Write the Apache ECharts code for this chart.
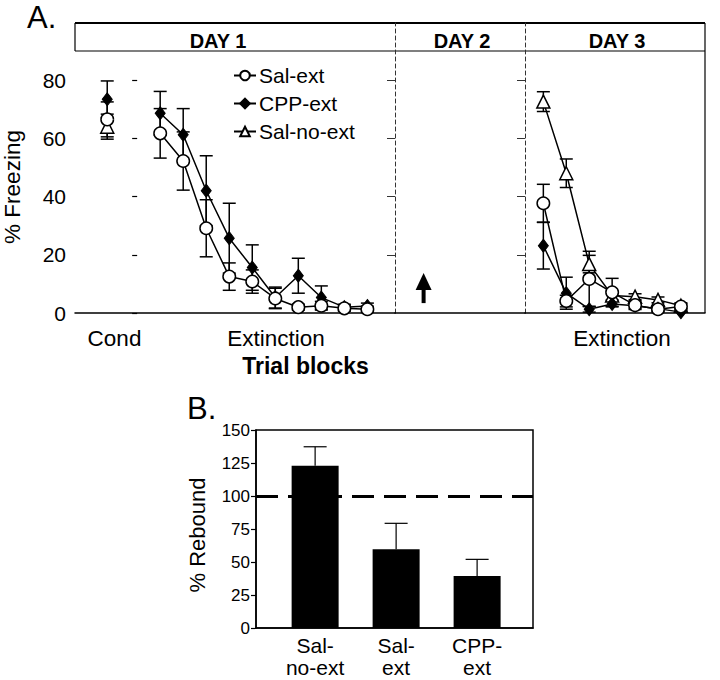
<!DOCTYPE html>
<html><head><meta charset="utf-8">
<script src="https://cdn.jsdelivr.net/npm/echarts@6/dist/echarts.min.js"></script>
<style>html,body{margin:0;padding:0;background:#fff}#c{width:720px;height:680px}</style>
</head><body><div id="c"></div>
<script>
// ---------- Panel A data (% Freezing, mean and SEM) ----------
const condBlockX = -1.3;                       // position of the conditioning block on Day 1
const day1Blocks = [1, 2, 3, 4, 5, 6, 7, 8, 9, 10];
const day3Blocks = [1, 2, 3, 4, 5, 6, 7];
const condSalExt = [66.5, 6.0];
const condCppExt = [73.4, 6.3];
const condSalNoExt = [64.0, 4.3];
const day1SalExt    = [61.7, 52.2, 29.1, 12.5, 10.8, 5.0, 2.0, 2.5, 1.6, 1.3];
const day1SalExtErr = [8.5, 10.0, 9.8, 4.7, 4.0, 3.5, 1.0, 1.5, 1.0, 1.0];
const day1CppExt    = [68.6, 61.2, 42.0, 25.7, 15.6, 5.3, 12.8, 5.3, 2.0, 2.4];
const day1CppExtErr = [7.5, 9.0, 12.0, 12.0, 7.8, 3.6, 6.0, 4.0, 1.0, 1.0];
const day3SalNoExt    = [72.6, 48.0, 16.8, 6.0, 5.6, 4.5, 2.5];
const day3SalNoExtErr = [3.4, 4.9, 3.0, 1.5, 1.0, 1.0, 1.0];
const day3SalExt      = [37.7, 4.1, 11.7, 7.1, 2.7, 1.3, 2.2];
const day3SalExtErr   = [6.5, 2.0, 9.5, 4.8, 1.5, 1.0, 1.0];
const day3CppExt      = [23.1, 6.8, 1.3, 3.1, 2.5, 1.5, 0.3];
const day3CppExtErr   = [8.0, 5.5, 1.0, 1.0, 1.0, 0.8, 0.5];
const day2Arrow = [0.22, 3.4, 13.7];           // x, base, tip (Day 2 test marker)
const freezingTicks = [0, 20, 40, 60, 80];
const freezingMax = 99.6;
const headerLevel = 90;
const dayLabels = ['DAY 1', 'DAY 2', 'DAY 3'];
const seriesNames = ['Sal-ext', 'CPP-ext', 'Sal-no-ext'];

// ---------- Panel B data (% Rebound) ----------
const reboundCategories = ['Sal-\nno-ext', 'Sal-\next', 'CPP-\next'];
const reboundValues = [123, 59.6, 39.4];
const reboundErr = [14.3, 19.7, 12.6];
const reboundReference = 100;
const reboundTicks = [0, 25, 50, 75, 100, 125, 150];

// ---------- layout ----------
const FONT = "'Liberation Sans', Arial, Helvetica, sans-serif";
const A = {top: 23, bottom: 313, x0: 75, x1: 395, x2: 525, x3: 705};
const B = {left: 256, right: 533, top: 430, bottom: 628};

const markerStyles = {
  'Sal-ext':    {symbol: 'circle', symbolSize: 12.5, itemStyle: {color: '#fff', borderColor: '#000', borderWidth: 1.5}, z: 5},
  'CPP-ext':    {symbol: 'diamond', symbolSize: [10, 13], itemStyle: {color: '#000', borderColor: '#000', borderWidth: 1}, z: 4},
  'Sal-no-ext': {symbol: 'triangle', symbolSize: 13, itemStyle: {color: '#fff', borderColor: '#000', borderWidth: 1.5}, z: 3}
};

function pairs(xs, ys) { return xs.map((x, i) => [x, ys[i]]); }
function triples(xs, ys, es) { return xs.map((x, i) => [x, ys[i], es[i]]); }

function lineSeries(name, gridIdx, data) {
  const s = markerStyles[name];
  return {
    type: 'line', name, xAxisIndex: gridIdx, yAxisIndex: gridIdx, data,
    symbol: s.symbol, symbolSize: s.symbolSize, showAllSymbol: true,
    itemStyle: s.itemStyle, lineStyle: {color: '#000', width: 1.5},
    z: s.z, animation: false, emphasis: {disabled: true}, silent: true
  };
}

function errRender(params, api) {
  const x = api.value(0), y = api.value(1), e = api.value(2);
  const lo = Math.max(0, y - e);
  const t = api.coord([x, y + e]), b = api.coord([x, lo]);
  const h = 6.5;
  const st = {stroke: '#000', lineWidth: 1.5};
  const ch = [
    {type: 'line', shape: {x1: t[0], y1: t[1], x2: b[0], y2: b[1]}, style: st},
    {type: 'line', shape: {x1: t[0] - h, y1: t[1], x2: t[0] + h, y2: t[1]}, style: st}
  ];
  if (y - e > 0) ch.push({type: 'line', shape: {x1: b[0] - h, y1: b[1], x2: b[0] + h, y2: b[1]}, style: st});
  return {type: 'group', children: ch};
}
function errSeries(gridIdx, data) {
  return {type: 'custom', xAxisIndex: gridIdx, yAxisIndex: gridIdx, data, renderItem: errRender,
          encode: {x: 0, y: 1}, z: 2, silent: true, animation: false};
}

function arrowRender(params, api) {
  const x = api.value(0);
  const base = api.coord([x, api.value(1)]);
  const tip = api.coord([x, api.value(2)]);
  const headLen = 17, headW = 8, shaftW = 2;
  const hb = tip[1] + headLen;
  return {type: 'group', children: [
    {type: 'rect', shape: {x: base[0] - shaftW, y: hb - 1, width: shaftW * 2, height: base[1] - hb + 1}, style: {fill: '#000'}},
    {type: 'polygon', shape: {points: [[tip[0], tip[1]], [tip[0] - headW, hb], [tip[0] + headW, hb]]}, style: {fill: '#000'}}
  ]};
}

function barErrRender(params, api) {
  const x = api.value(0), y = api.value(1), e = api.value(2);
  const t = api.coord([x, y + e]), b = api.coord([x, y]);
  const h = 11.5;
  const st = {stroke: '#000', lineWidth: 1.2};
  return {type: 'group', children: [
    {type: 'line', shape: {x1: t[0], y1: t[1], x2: b[0], y2: b[1]}, style: st},
    {type: 'line', shape: {x1: t[0] - h, y1: t[1], x2: t[0] + h, y2: t[1]}, style: st}
  ]};
}

const gridH = A.bottom - A.top;
const grids = [
  {left: A.x0, top: A.top, width: A.x1 - A.x0, height: gridH, outerBoundsMode: 'none'},
  {left: A.x1, top: A.top, width: A.x2 - A.x1, height: gridH, outerBoundsMode: 'none'},
  {left: A.x2, top: A.top, width: A.x3 - A.x2, height: gridH, outerBoundsMode: 'none'},
  {left: B.left, top: B.top, width: B.right - B.left, height: B.bottom - B.top, outerBoundsMode: 'none',
   show: true, borderColor: '#000', borderWidth: 1.5, backgroundColor: 'transparent'}
];

const baseX = {type: 'value', axisLine: {show: true, onZero: false, lineStyle: {color: '#000', width: 1.5}},
               axisTick: {show: false}, axisLabel: {show: false}, splitLine: {show: false}};
const xAxes = [
  Object.assign({}, baseX, {gridIndex: 0, min: -2.7, max: 11.2}),
  Object.assign({}, baseX, {gridIndex: 1, min: 0, max: 1}),
  Object.assign({}, baseX, {gridIndex: 2, min: 0.2, max: 8.05}),
  {type: 'value', gridIndex: 3, min: 0.27, max: 3.69,
   axisLine: {show: true, lineStyle: {color: '#000', width: 1.5}}, axisTick: {show: false}, splitLine: {show: false},
   axisLabel: {customValues: [1, 2, 3], formatter: v => reboundCategories[Math.round(v) - 1] || '',
               color: '#000', fontFamily: FONT, fontSize: 21, lineHeight: 22, margin: 6}}
];

const yAxes = [
  {type: 'value', gridIndex: 0, min: 0, max: freezingMax, interval: 20,
   axisLine: {show: false}, splitLine: {show: false},
   axisTick: {show: true, length: 5, customValues: freezingTicks, lineStyle: {color: '#000', width: 1.2}},
   axisLabel: {customValues: freezingTicks, color: '#000', fontFamily: FONT, fontSize: 21, margin: 9}},
  {type: 'value', gridIndex: 1, min: 0, max: freezingMax,
   axisLine: {show: true, lineStyle: {color: '#333', width: 1, type: [4, 3]}}, splitLine: {show: false},
   axisTick: {show: true, length: 8, customValues: freezingTicks.slice(1), lineStyle: {color: '#333', width: 1}},
   axisLabel: {show: false}},
  {type: 'value', gridIndex: 2, min: 0, max: freezingMax,
   axisLine: {show: true, lineStyle: {color: '#333', width: 1, type: [4, 3]}}, splitLine: {show: false},
   axisTick: {show: true, length: 8, customValues: freezingTicks.slice(1), lineStyle: {color: '#333', width: 1}},
   axisLabel: {show: false}},
  {type: 'value', gridIndex: 3, min: 0, max: 150, interval: 25,
   axisLine: {show: true, lineStyle: {color: '#000', width: 1.5}}, splitLine: {show: false},
   axisTick: {show: true, length: 5, customValues: reboundTicks, lineStyle: {color: '#000', width: 1.2}},
   axisLabel: {customValues: reboundTicks, color: '#000', fontFamily: FONT, fontSize: 17, margin: 6}}
];

const series = [
  // Day 1
  lineSeries('Sal-ext', 0, pairs(day1Blocks, day1SalExt)),
  lineSeries('CPP-ext', 0, pairs(day1Blocks, day1CppExt)),
  lineSeries('Sal-no-ext', 0, [[condBlockX, condSalNoExt[0]]]),
  lineSeries('Sal-ext', 0, [[condBlockX, condSalExt[0]]]),
  lineSeries('CPP-ext', 0, [[condBlockX, condCppExt[0]]]),
  errSeries(0, triples(day1Blocks, day1SalExt, day1SalExtErr)),
  errSeries(0, triples(day1Blocks, day1CppExt, day1CppExtErr)),
  errSeries(0, [[condBlockX, condSalExt[0], condSalExt[1]], [condBlockX, condCppExt[0], condCppExt[1]],
                [condBlockX, condSalNoExt[0], condSalNoExt[1]]]),
  // Day 2 arrow
  {type: 'custom', xAxisIndex: 1, yAxisIndex: 1, data: [day2Arrow], renderItem: arrowRender,
   encode: {x: 0, y: 1}, silent: true, animation: false},
  // Day 3
  lineSeries('Sal-no-ext', 2, pairs(day3Blocks, day3SalNoExt)),
  lineSeries('CPP-ext', 2, pairs(day3Blocks, day3CppExt)),
  lineSeries('Sal-ext', 2, pairs(day3Blocks, day3SalExt)),
  errSeries(2, triples(day3Blocks, day3SalNoExt, day3SalNoExtErr)),
  errSeries(2, triples(day3Blocks, day3CppExt, day3CppExtErr)),
  errSeries(2, triples(day3Blocks, day3SalExt, day3SalExtErr)),
  // Panel B
  {type: 'bar', xAxisIndex: 3, yAxisIndex: 3, barWidth: 47,
   data: reboundValues.map((v, i) => [i + 1, v]), itemStyle: {color: '#000'}, silent: true, animation: false, z: 2,
   markLine: {silent: true, symbol: 'none', label: {show: false}, animation: false,
              lineStyle: {color: '#000', width: 3, type: [22, 10]},
              data: [{yAxis: reboundReference}]}},
  {type: 'custom', xAxisIndex: 3, yAxisIndex: 3, data: reboundValues.map((v, i) => [i + 1, v, reboundErr[i]]),
   renderItem: barErrRender, encode: {x: 0, y: 1}, z: 1, silent: true, animation: false}
];

const headerY = A.bottom - (A.bottom - A.top) * headerLevel / freezingMax;
const txt = (text, x, y, size, opts) => Object.assign({type: 'text', x, y, silent: true,
  style: Object.assign({text, fill: '#000', font: `${size}px ${FONT}`, textAlign: 'center', textVerticalAlign: 'middle'}, opts || {})});
const ln = (x1, y1, x2, y2, w, color, dash) => ({type: 'line', silent: true,
  shape: {x1, y1, x2, y2}, style: {stroke: color || '#000', lineWidth: w, lineDash: dash || null}});

const graphic = [
  ln(A.x0, A.top, A.x3, A.top, 2),
  ln(A.x0, headerY, A.x3, headerY, 1.5, '#555'),
  ln(A.x0, A.top, A.x0, headerY, 1.2),
  ln(A.x3, A.top, A.x3, A.bottom, 1.2),
  txt('A.', 27, 17.5, 31, {textAlign: 'left'}),
  txt(dayLabels[0], 218, 41, 20, {font: `bold 20px ${FONT}`}),
  txt(dayLabels[1], 462, 41, 20, {font: `bold 20px ${FONT}`}),
  txt(dayLabels[2], 617, 41, 20, {font: `bold 20px ${FONT}`}),
  Object.assign(txt('% Freezing', 12.5, 187, 22.5), {rotation: Math.PI / 2}),
  txt('Cond', 114.5, 338.5, 22.5),
  txt('Extinction', 276, 338.5, 22.5),
  txt('Extinction', 622, 338.5, 22.5),
  txt('Trial blocks', 305.5, 366, 23, {font: `bold 23px ${FONT}`}),
  txt('B.', 187, 408, 31, {textAlign: 'left'}),
  Object.assign(txt('% Rebound', 197, 535, 22), {rotation: Math.PI / 2})
];

const chart = echarts.init(document.getElementById('c'), null, {renderer: 'svg', width: 720, height: 680});
chart.setOption({
  animation: false,
  backgroundColor: '#fff',
  grid: grids, xAxis: xAxes, yAxis: yAxes, series,
  legend: {data: seriesNames, orient: 'vertical', left: 233, top: 65, itemWidth: 22, itemHeight: 12, itemGap: 7,
           padding: 0, selectedMode: false, textStyle: {color: '#000', fontFamily: FONT, fontSize: 21, padding: [0, 0, 0, -2]}},
  graphic
});
</script></body></html>
